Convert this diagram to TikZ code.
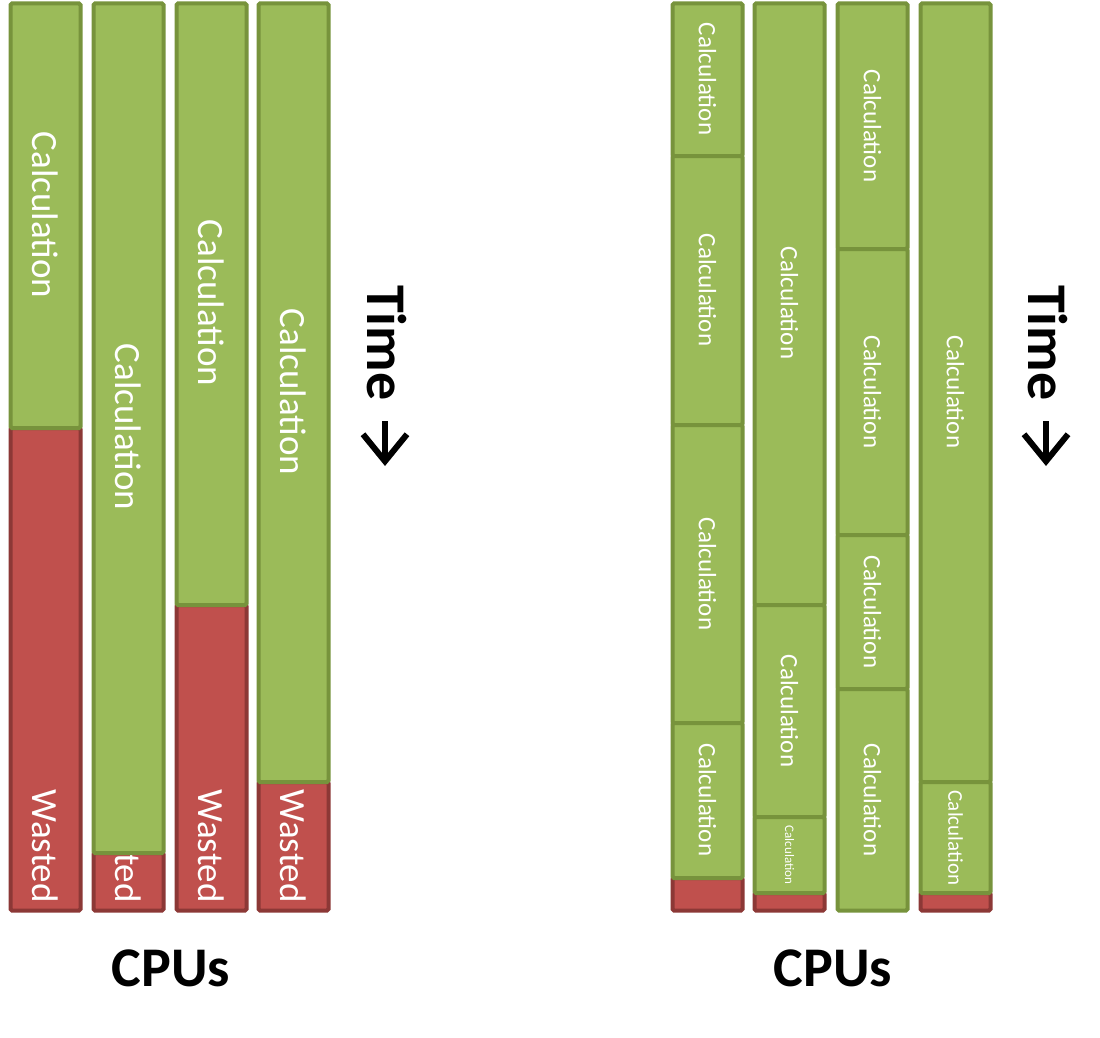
\documentclass[tikz,border=0pt]{standalone}
\usepackage{fontspec}
\setmainfont{Carlito}
\usetikzlibrary{arrows.meta}
\definecolor{calcfill}{HTML}{9BBB59}
\definecolor{calcline}{HTML}{77933C}
\definecolor{wastefill}{HTML}{C0504D}
\definecolor{wasteline}{HTML}{8C3836}
\begin{document}
\begin{tikzpicture}[x=1pt,y=-1pt,
    calc/.style={draw=calcline, fill=calcfill, line width=4pt, rounded corners=1.5pt},
    waste/.style={draw=wasteline, fill=wastefill, line width=4pt, rounded corners=1.5pt},
    lbl/.style={text=white, rotate=-90, inner sep=0pt, font=\fontsize{37}{37}\selectfont},
    small/.style={lbl, font=\fontsize{25}{25}\selectfont},
    head/.style={inner sep=0pt, font=\bfseries\fontsize{56}{56}\selectfont},
    timearrow/.style={line width=6pt, -{Straight Barb[length=27pt, width=44pt]}}]
    \useasboundingbox (0,0) rectangle (1100,1038);
    % first schedule: one task per CPU
    \draw[waste] (10.5,428) rectangle (80.5,910.5);
    \node[lbl, anchor=east] (wa) at (45.5,903) {Wasted};
    \draw[calc] (10.5,3.5) rectangle (80.5,428);
    \node[lbl] (ca) at (45.5,215) {Calculation};
    \draw[waste] (93.5,853) rectangle (163.5,910.5);
    \node[lbl, anchor=east] (wb) at (128.5,903) {Wasted};
    \draw[calc] (93.5,3.5) rectangle (163.5,853);
    \node[lbl] (cb) at (128.5,427) {Calculation};
    \draw[waste] (176.5,605) rectangle (246.5,910.5);
    \node[lbl, anchor=east] (wc) at (211.5,903) {Wasted};
    \draw[calc] (176.5,3.5) rectangle (246.5,605);
    \node[lbl] (cc) at (211.5,303) {Calculation};
    \draw[waste] (258.5,782) rectangle (328.5,910.5);
    \node[lbl, anchor=east] (wd) at (293.5,903) {Wasted};
    \draw[calc] (258.5,3.5) rectangle (328.5,782);
    \node[lbl] (cd) at (293.5,392) {Calculation};
    \node[head, rotate=-90, anchor=west] (timea) at (387,285) {Time};
    \coordinate (ta1) at (385,421);
    \coordinate (ta2) at (385,466);
    \draw[timearrow] (ta1) -- (ta2);
    \node[head] (cpua) at (171,968) {CPUs};
    % second schedule: tasks split up
    \draw[waste] (672.5,878) rectangle (742.5,910.5);
    \draw[calc] (672.5,3.5) rectangle (742.5,156);
    \draw[calc] (672.5,156) rectangle (742.5,425);
    \draw[calc] (672.5,425) rectangle (742.5,723);
    \draw[calc] (672.5,723) rectangle (742.5,878);
    \node[small] (ra1) at (707.5,79) {Calculation};
    \node[small] (ra2) at (707.5,290) {Calculation};
    \node[small] (ra3) at (707.5,574) {Calculation};
    \node[small] (ra4) at (707.5,800) {Calculation};
    \draw[waste] (754.5,893) rectangle (824.5,910.5);
    \draw[calc] (754.5,3.5) rectangle (824.5,605);
    \draw[calc] (754.5,605) rectangle (824.5,817);
    \draw[calc] (754.5,817) rectangle (824.5,893);
    \node[small] (rb1) at (789.5,303) {Calculation};
    \node[small] (rb2) at (789.5,711) {Calculation};
    \node[lbl, font=\fontsize{13}{13}\selectfont] (rb3) at (789.5,855) {Calculation};
    \draw[calc] (837.5,3.5) rectangle (907.5,249);
    \draw[calc] (837.5,249) rectangle (907.5,535);
    \draw[calc] (837.5,535) rectangle (907.5,689);
    \draw[calc] (837.5,689) rectangle (907.5,910.5);
    \node[small] (rc1) at (872.5,126) {Calculation};
    \node[small] (rc2) at (872.5,392) {Calculation};
    \node[small] (rc3) at (872.5,612) {Calculation};
    \node[small] (rc4) at (872.5,800) {Calculation};
    \draw[waste] (920.5,893) rectangle (990.5,910.5);
    \draw[calc] (920.5,3.5) rectangle (990.5,782);
    \draw[calc] (920.5,782) rectangle (990.5,893);
    \node[small] (rd1) at (955.5,392) {Calculation};
    \node[lbl, font=\fontsize{21}{21}\selectfont] (rd2) at (955.5,838) {Calculation};
    \node[head, rotate=-90, anchor=west] (timeb) at (1048,285) {Time};
    \coordinate (tb1) at (1046,421);
    \coordinate (tb2) at (1046,466);
    \draw[timearrow] (tb1) -- (tb2);
    \node[head] (cpub) at (833,968) {CPUs};
\end{tikzpicture}
\end{document}
